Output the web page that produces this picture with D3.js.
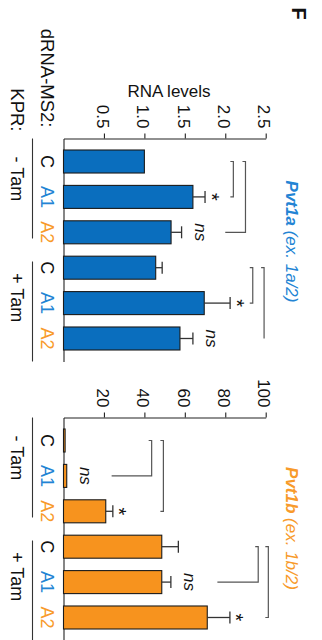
<!DOCTYPE html>
<html>
<head>
<meta charset="utf-8">
<script src="https://cdn.jsdelivr.net/npm/d3@7"></script>
<style>
  html, body { margin: 0; padding: 0; background: #fff; }
  svg { display: block; font-family: "Liberation Sans", Arial, Helvetica, sans-serif; }
</style>
</head>
<body>
<svg id="chart" width="322" height="640"></svg>
<script>
// ---- data ----
const constructs = ["C", "A1", "A2", "C", "A1", "A2"];
const treatments = ["- Tam", "+ Tam"];
const treatmentOf = [0, 0, 0, 1, 1, 1];

const pvt1aMean = [1.00, 1.60, 1.33, 1.14, 1.74, 1.44];
const pvt1aSem  = [0.00, 0.15, 0.13, 0.08, 0.32, 0.16];
const pvt1aTicks = [0.5, 1.0, 1.5, 2.0, 2.5];

const pvt1bMean = [0.8, 1.6, 20.9, 48.6, 48.6, 71.1];
const pvt1bSem  = [0.0, 0.0, 3.5, 8.2, 4.5, 11.2];
const pvt1bTicks = [20, 40, 60, 80, 100];

// comparisons: bar indices, bracket level and optional leg end (value units), label
const pvt1aSig = [
  { from: 0, to: 1, level: 2.10, legTo: null, label: "*" },
  { from: 0, to: 2, level: 2.25, legTo: 2.00, label: "ns" },
  { from: 3, to: 4, level: 2.34, legTo: null, label: "*" },
  { from: 3, to: 5, level: 2.48, legTo: 2.48, label: "ns" }
];
const pvt1bSig = [
  { from: 0, to: 1, level: 43.6, legTo: 23.8, label: "ns" },
  { from: 0, to: 2, level: 49.4, legTo: null, label: "*" },
  { from: 3, to: 4, level: 96.3, legTo: 76.1, label: "ns" },
  { from: 3, to: 5, level: 101.3, legTo: null, label: "*" }
];

// ---- styling ----
const BLUE_BAR = "#0a6ebe";
const ORANGE_BAR = "#f7931e";
const BLUE_TXT = "#2384d4";
const ORANGE_TXT = "#f89a2a";
const labelColor = { "C": "#111", "A1": BLUE_TXT, "A2": ORANGE_TXT };

const svg = d3.select("#chart");
const X0 = 63.5, X1 = 265.7, SPAN = 223;

function rot(x, y) { return `translate(${x},${y}) rotate(90)`; }

function drawPanel(p) {
  const g = svg.append("g");
  const x = d3.scaleLinear().domain(p.domain).range([X0, X1]);
  const y = d3.scaleBand()
    .domain(d3.range(constructs.length))
    .range([p.axisY, p.axisY + SPAN])
    .paddingInner(0.35)
    .paddingOuter(0.325);
  const cy = i => y(i) + y.bandwidth() / 2;

  // value axis along the top
  const ax = g.append("g")
    .attr("transform", `translate(0,${p.axisY})`)
    .call(d3.axisTop(x).tickValues(p.ticks).tickSize(5).tickSizeOuter(0).tickFormat(p.fmt));
  ax.selectAll("path, line").attr("stroke", "#222").attr("stroke-width", 1.1);
  ax.selectAll("text")
    .attr("x", null).attr("y", null).attr("dy", null)
    .attr("fill", "#111")
    .style("font-size", "17px")
    .attr("text-anchor", "end")
    .attr("transform", "translate(-7.8,-10) rotate(90)");

  // category axis down the left
  const cat = g.append("g")
    .attr("transform", `translate(${X0},0)`)
    .call(d3.axisLeft(y).tickSize(0).tickSizeOuter(0).tickFormat(i => constructs[i]));
  cat.select(".domain").attr("stroke", "#222").attr("stroke-width", 1.1);
  cat.selectAll("text")
    .attr("x", null).attr("y", null).attr("dy", null)
    .attr("text-anchor", "middle")
    .style("font-size", "18px")
    .attr("fill", i => labelColor[constructs[i]])
    .attr("transform", "translate(-23,0) rotate(90)");

  // bars
  g.append("g").selectAll("rect")
    .data(p.mean)
    .join("rect")
    .attr("x", x(0))
    .attr("y", (d, i) => y(i))
    .attr("width", d => x(d) - x(0))
    .attr("height", y.bandwidth())
    .attr("fill", p.fill)
    .attr("stroke", "#1b1b1b")
    .attr("stroke-width", 1.1);

  // error bars
  const eb = g.append("g").attr("stroke", "#333").attr("stroke-width", 1.3).attr("fill", "none");
  p.mean.forEach((m, i) => {
    if (!p.sem[i]) return;
    const xe = x(m + p.sem[i]);
    eb.append("line").attr("x1", x(m)).attr("x2", xe).attr("y1", cy(i)).attr("y2", cy(i));
    eb.append("line").attr("x1", xe).attr("x2", xe).attr("y1", cy(i) - 6).attr("y2", cy(i) + 6);
  });

  // significance brackets and labels
  const br = g.append("g").attr("stroke", "#555").attr("stroke-width", 1.2).attr("fill", "none");
  p.sig.forEach(s => {
    const xl = x(s.level), y0 = cy(s.from), y1 = cy(s.to);
    const legX = s.legTo == null ? xl - 3 : x(s.legTo);
    br.append("path").attr("d", `M${xl - 3},${y0}H${xl}V${y1}H${legX}`);
    const top = p.mean[s.to] + p.sem[s.to];
    const xe = x(top);
    if (s.label === "*") {
      g.append("text").text("*")
        .attr("transform", rot(xe + 11 - 11.5, y1))
        .attr("text-anchor", "middle")
        .style("font-size", "20px").attr("fill", "#111");
    } else {
      g.append("text").text("ns")
        .attr("transform", rot(xe + 13.5, y1))
        .attr("text-anchor", "middle")
        .style("font-size", "17px").style("font-style", "italic").attr("fill", "#111");
    }
  });

  // treatment group lines and labels
  const mid = (cy(2) + cy(3)) / 2;
  const segs = [[p.axisY, mid - 11.5], [mid + 11.5, p.axisY + SPAN]];
  const labelShift = [-18, -5.5];
  treatments.forEach((t, k) => {
    g.append("line")
      .attr("x1", 32.5).attr("x2", 32.5)
      .attr("y1", segs[k][0]).attr("y2", segs[k][1])
      .attr("stroke", "#333").attr("stroke-width", 1.1);
    const idx = d3.range(constructs.length).filter(i => treatmentOf[i] === k);
    const c = (cy(idx[0]) + cy(idx[idx.length - 1])) / 2 + labelShift[k];
    g.append("text").text(t)
      .attr("transform", rot(10.5, c))
      .attr("text-anchor", "middle")
      .style("font-size", "18px").attr("fill", "#111");
  });

  // gene title
  const tt = g.append("text")
    .attr("transform", rot(285.5, p.axisY + p.titleOffset))
    .attr("text-anchor", "middle")
    .style("font-size", "17px").style("font-style", "italic")
    .attr("fill", p.titleColor);
  tt.append("tspan").text(p.titleMain).style("font-weight", "bold");
  tt.append("tspan").text(p.titleSub);
}

drawPanel({
  axisY: 138.5, domain: [0, 2.5], ticks: pvt1aTicks, fmt: d3.format(".1f"),
  mean: pvt1aMean, sem: pvt1aSem, sig: pvt1aSig, fill: BLUE_BAR,
  titleMain: "Pvt1a", titleSub: " (ex. 1a/2)", titleColor: BLUE_TXT, titleOffset: 103
});
drawPanel({
  axisY: 417.5, domain: [0, 100], ticks: pvt1bTicks, fmt: d3.format("d"),
  mean: pvt1bMean, sem: pvt1bSem, sig: pvt1bSig, fill: ORANGE_BAR,
  titleMain: "Pvt1b", titleSub: " (ex. 1b/2)", titleColor: ORANGE_TXT, titleOffset: 111
});

// row headers, axis title and panel letter
svg.append("text").text("dRNA-MS2:")
  .attr("transform", rot(40.5, 127.5)).attr("text-anchor", "end")
  .style("font-size", "18.5px").attr("fill", "#111");
svg.append("text").text("KPR:")
  .attr("transform", rot(10.5, 131.5)).attr("text-anchor", "end")
  .style("font-size", "18.5px").attr("fill", "#111");
svg.append("text").text("RNA levels")
  .attr("x", 169).attr("y", 96.5).attr("text-anchor", "middle")
  .style("font-size", "17px").attr("fill", "#111");
svg.append("text").text("F")
  .attr("transform", rot(292, 13.5)).attr("text-anchor", "middle")
  .style("font-size", "20px").style("font-weight", "bold").attr("fill", "#111");
</script>
</body>
</html>
